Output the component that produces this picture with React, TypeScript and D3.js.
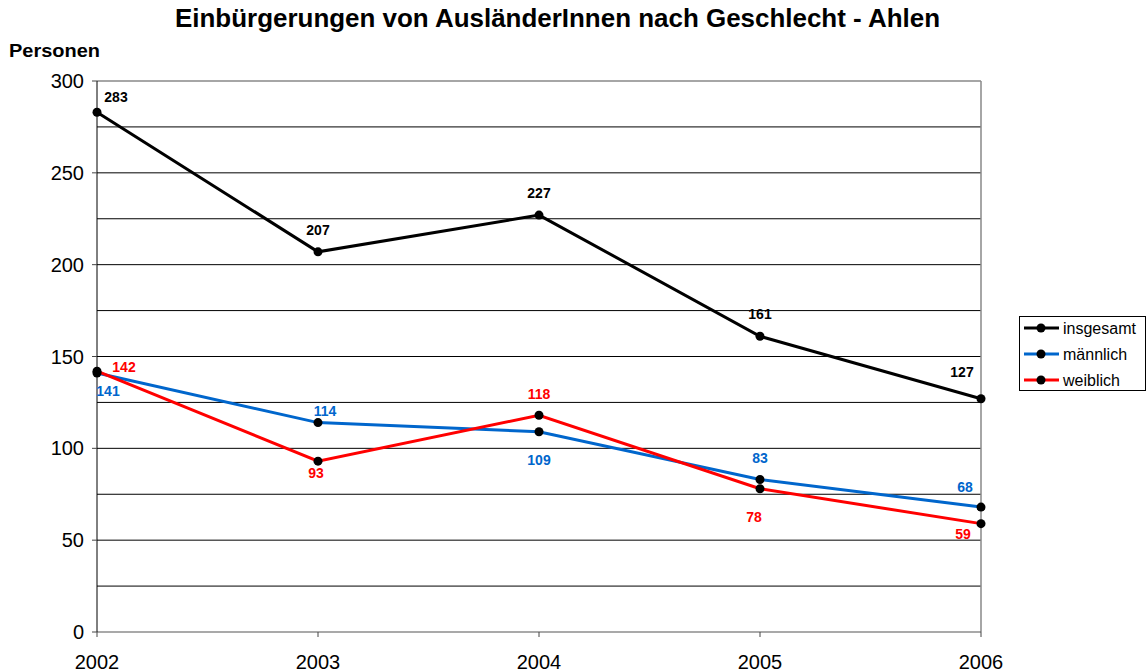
import React from "react";
import * as d3 from "d3";

const years = ["2002", "2003", "2004", "2005", "2006"];
const insgesamt = [283, 207, 227, 161, 127];
const maennlich = [141, 114, 109, 83, 68];
const weiblich = [142, 93, 118, 78, 59];
const yTicks = [0, 50, 100, 150, 200, 250, 300];
const gridValues = [25, 50, 75, 100, 125, 150, 175, 200, 225, 250, 275];

// label offsets (dx, dy) relative to point
const offIns: [number, number][] = [[19, -10], [0, -17], [0, -17], [0, -17], [-19, -22]];
const offMae: [number, number][] = [[11, 23], [7, -7], [0, 33], [0, -17], [-16, -15]];
const offWei: [number, number][] = [[27, 1], [-2, 17], [0, -16], [-6, 33], [-18, 15]];

const series = [
  { name: "insgesamt", values: insgesamt, color: "#000000", offs: offIns, labelColor: "#000000" },
  { name: "männlich", values: maennlich, color: "#0066CC", offs: offMae, labelColor: "#0066CC" },
  { name: "weiblich", values: weiblich, color: "#FF0000", offs: offWei, labelColor: "#FF0000" },
];

export default function App() {
  const W = 1148, H = 672;
  const left = 97, right = 981, top = 81, bottom = 632;
  const x = d3.scalePoint<string>().domain(years).range([left, right]);
  const y = d3.scaleLinear().domain([0, 300]).range([bottom, top]);
  const line = d3.line<number>().x((_, i) => x(years[i])!).y((d) => y(d));
  const font = "Arial, 'Liberation Sans', Helvetica, sans-serif";

  return (
    <svg width={W} height={H} style={{ position: "absolute", left: 0, top: 0 }} fontFamily={font}>
      <rect x={0} y={0} width={W} height={H} fill="#fff" />
      <text x={175} y={27} fontWeight="bold" fontSize={25} textLength={765} lengthAdjust="spacingAndGlyphs">
        Einbürgerungen von AusländerInnen nach Geschlecht - Ahlen
      </text>
      <text x={9} y={57} fontWeight="bold" fontSize={18} textLength={91} lengthAdjust="spacingAndGlyphs">Personen</text>

      {gridValues.map((v) => (
        <line key={v} x1={left} x2={right} y1={y(v)} y2={y(v)} stroke="#000" strokeWidth={1} />
      ))}
      {/* plot frame */}
      <line x1={left} x2={right} y1={top} y2={top} stroke="#888" strokeWidth={1.5} />
      <line x1={right} x2={right} y1={top} y2={bottom} stroke="#888" strokeWidth={1.5} />
      <line x1={left} x2={right} y1={bottom} y2={bottom} stroke="#555" strokeWidth={1.2} />
      <line x1={left} x2={left} y1={top} y2={bottom} stroke="#000" strokeWidth={1} />

      {yTicks.map((v) => (
        <g key={v}>
          <line x1={left - 5} x2={left} y1={y(v)} y2={y(v)} stroke="#444" />
          <text x={84} y={y(v) + 7} textAnchor="end" fontSize={20}>{v}</text>
        </g>
      ))}
      {years.map((yr) => (
        <g key={yr}>
          <line x1={x(yr)} x2={x(yr)} y1={bottom} y2={bottom + 5} stroke="#444" />
          <text x={x(yr)} y={669} textAnchor="middle" fontSize={20}>{yr}</text>
        </g>
      ))}

      {series.map((s) => (
        <g key={s.name}>
          <path d={line(s.values)!} fill="none" stroke={s.color} strokeWidth={3} />
        </g>
      ))}
      {series.map((s) => (
        <g key={s.name + "m"}>
          {s.values.map((v, i) => (
            <circle key={i} cx={x(years[i])} cy={y(v)} r={4.5} fill="#000" />
          ))}
        </g>
      ))}
      {series.map((s) => (
        <g key={s.name + "l"}>
          {s.values.map((v, i) => (
            <text
              key={i}
              x={x(years[i])! + s.offs[i][0]}
              y={y(v) + s.offs[i][1]}
              textAnchor="middle"
              fontWeight="bold"
              fontSize={14}
              fill={s.labelColor}
            >
              {v}
            </text>
          ))}
        </g>
      ))}

      {/* legend */}
      <rect x={1019.5} y={316.5} width={126} height={74} fill="#fff" stroke="#000" strokeWidth={1} />
      {series.map((s, i) => {
        const ly = 328 + i * 26;
        return (
          <g key={s.name + "leg"}>
            <line x1={1024} x2={1059} y1={ly} y2={ly} stroke={s.color} strokeWidth={3} />
            <circle cx={1041} cy={ly} r={4.5} fill="#000" />
            <text x={1063} y={ly + 6} fontSize={16}>{s.name}</text>
          </g>
        );
      })}
    </svg>
  );
}
